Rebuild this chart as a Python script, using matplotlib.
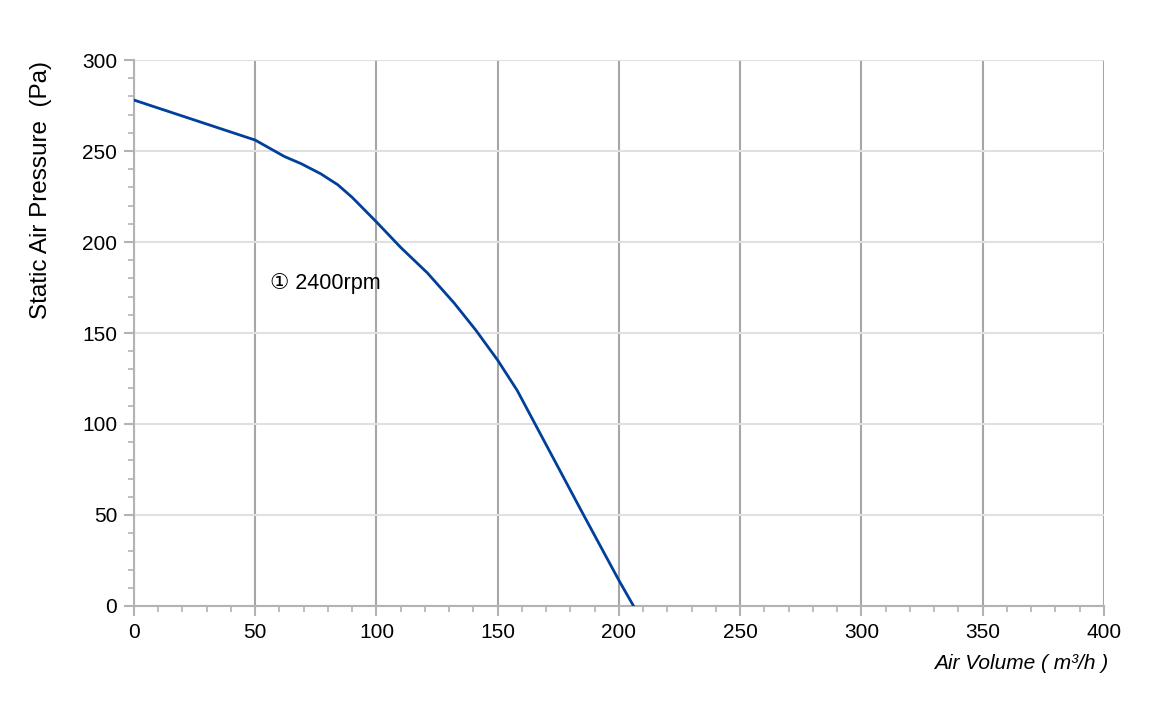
import numpy as np
import matplotlib.pyplot as plt
from matplotlib.ticker import MultipleLocator

plt.rcParams['font.family'] = ['Liberation Sans', 'DejaVu Sans']

# 读取的曲线数据
air_volume = [0, 25, 50, 56, 62, 69, 77, 84, 90, 100, 110, 121, 132, 141,
              150, 158, 165, 178, 185, 200, 206]
pressure = [278, 267, 256, 251.5, 247, 243, 237.5, 231.5, 224.5, 211, 197, 183, 166.5, 151.5,
            135, 118.5, 101, 68.5, 51, 14, 0]
curve_label = "\u2460 2400rpm"

fig = plt.figure(figsize=(11.53, 7.12), dpi=100)
ax = fig.add_axes([0.1162, 0.1489, 0.8413, 0.7668])

ax.plot(air_volume, pressure, color="#003f9a", lw=2.0, solid_joinstyle="round", zorder=3)

ax.set_xlim(0, 400)
ax.set_ylim(0, 300)
ax.xaxis.set_major_locator(MultipleLocator(50))
ax.xaxis.set_minor_locator(MultipleLocator(10))
ax.yaxis.set_major_locator(MultipleLocator(50))
ax.yaxis.set_minor_locator(MultipleLocator(10))

# 网格：竖线深灰，横线浅灰
ax.grid(True, axis="x", which="major", color="#a6a6a6", lw=1.5)
ax.grid(True, axis="y", which="major", color="#e0e0e0", lw=1.5)
ax.set_axisbelow(True)

for s in ["top", "right"]:
    ax.spines[s].set_visible(False)
for s in ["left", "bottom"]:
    ax.spines[s].set_color("#b3b3b3")
    ax.spines[s].set_linewidth(1.5)

ax.tick_params(which="major", length=7, width=1.5, color="#b3b3b3", labelsize=15, pad=5)
ax.tick_params(which="minor", length=4, width=1.2, color="#b3b3b3")

# y轴标题靠上放
ax.set_ylabel("Static Air Pressure  (Pa)", fontsize=17.5)
ax.yaxis.set_label_coords(-0.085, 0.762)
ax.text(1.004, -0.088, "Air Volume ( m\u00b3/h )", transform=ax.transAxes,
        ha="right", va="top", fontsize=15, style="italic")

ax.text(56, 177, curve_label, fontsize=15.5, va="center", ha="left")

fig.savefig("out.png", dpi=100)
plt.close(fig)
